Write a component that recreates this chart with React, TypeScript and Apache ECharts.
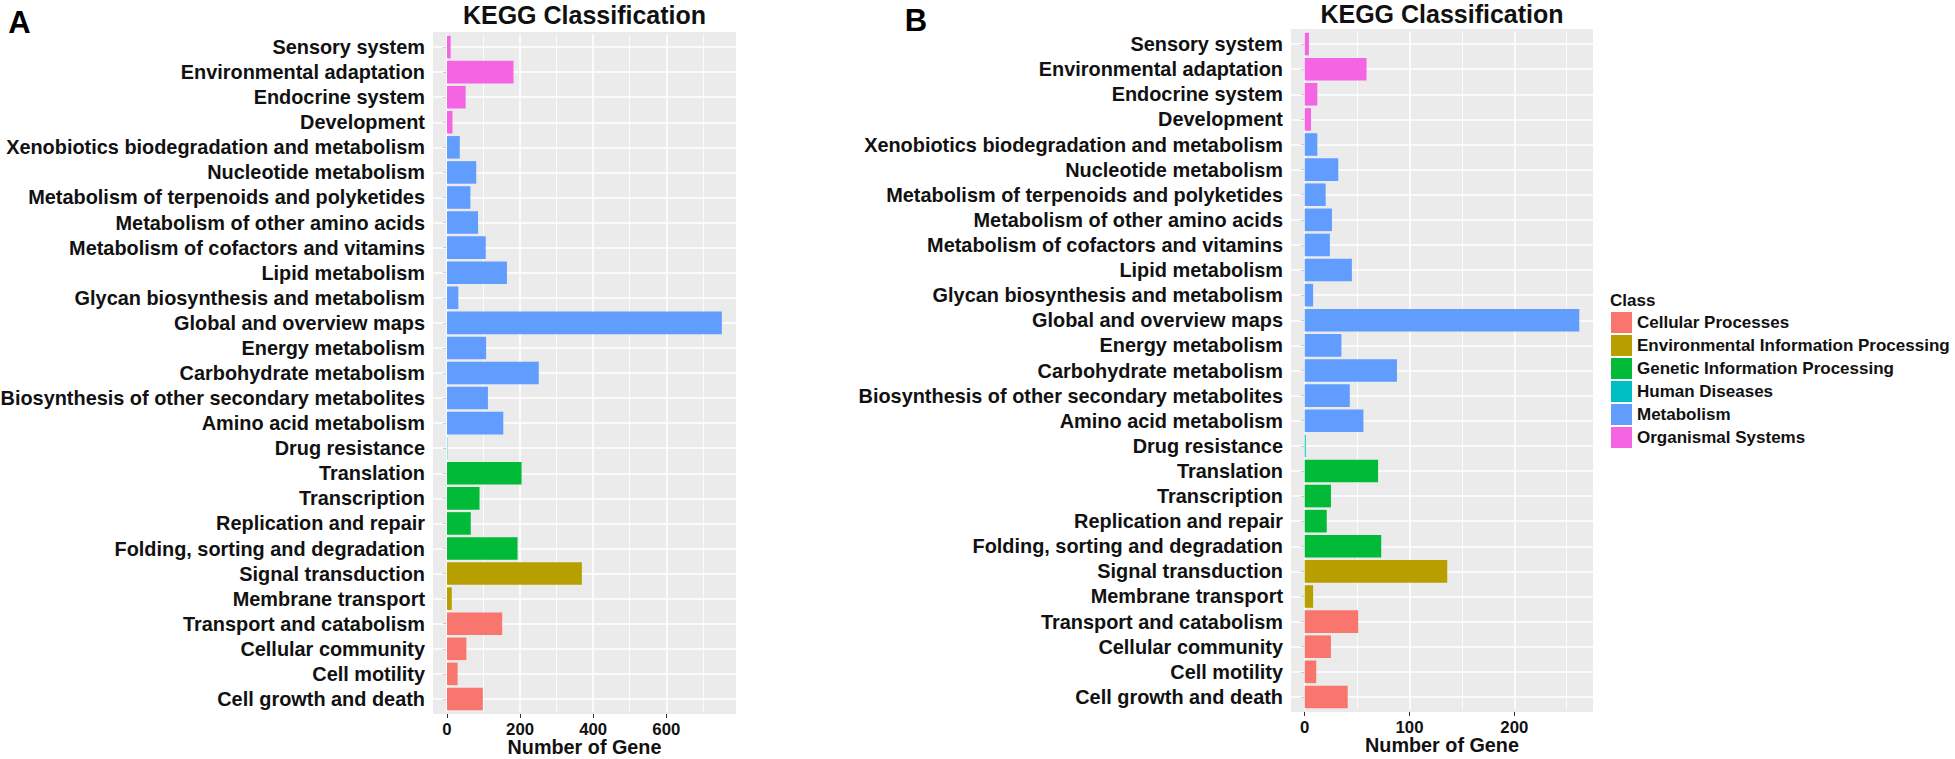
import React, { useEffect, useRef } from 'react';
import * as echarts from 'echarts';

const categories = [
  'Sensory system',
  'Environmental adaptation',
  'Endocrine system',
  'Development',
  'Xenobiotics biodegradation and metabolism',
  'Nucleotide metabolism',
  'Metabolism of terpenoids and polyketides',
  'Metabolism of other amino acids',
  'Metabolism of cofactors and vitamins',
  'Lipid metabolism',
  'Glycan biosynthesis and metabolism',
  'Global and overview maps',
  'Energy metabolism',
  'Carbohydrate metabolism',
  'Biosynthesis of other secondary metabolites',
  'Amino acid metabolism',
  'Drug resistance',
  'Translation',
  'Transcription',
  'Replication and repair',
  'Folding, sorting and degradation',
  'Signal transduction',
  'Membrane transport',
  'Transport and catabolism',
  'Cellular community',
  'Cell motility',
  'Cell growth and death',
];

const OS = 'Organismal Systems';
const ME = 'Metabolism';
const HD = 'Human Diseases';
const GI = 'Genetic Information Processing';
const EI = 'Environmental Information Processing';
const CP = 'Cellular Processes';

const categoryClass = [
  OS, OS, OS, OS,
  ME, ME, ME, ME, ME, ME, ME, ME, ME, ME, ME, ME,
  HD,
  GI, GI, GI, GI,
  EI, EI,
  CP, CP, CP, CP,
];

const classNames = [CP, EI, GI, HD, ME, OS];
const classColors = ['#F8766D', '#B79F00', '#00BA38', '#00BFC4', '#619CFF', '#F564E3'];

const valuesA = [10, 182, 51, 15, 35, 80, 64, 85, 106, 164, 31, 752, 107, 251, 112, 154, 1, 204, 89, 65, 193, 369, 13, 151, 53, 29, 98];
const valuesB = [4, 59, 12, 6, 12, 32, 20, 26, 24, 45, 8, 262, 35, 88, 43, 56, 1, 70, 25, 21, 73, 136, 8, 51, 25, 11, 41];

const majorTicksA = [0, 200, 400, 600];
const minorTicksA = [100, 300, 500, 700];
const majorTicksB = [0, 100, 200];
const minorTicksB = [50, 150, 250];

const titleText = 'KEGG Classification';
const xAxisTitle = 'Number of Gene';
const legendTitle = 'Class';
const panelLetters = ['A', 'B'];

const FONT = "'Liberation Sans', Arial, Helvetica, sans-serif";
const INK = '#111111';

function buildOption() {
  const panels = [
    {
      values: valuesA, major: majorTicksA, minor: minorTicksA,
      left: 433, right: 736, top: 32, bottom: 714, min: -38.3, max: 790.7,
      letterX: 19.5, letterY: 22,
    },
    {
      values: valuesB, major: majorTicksB, minor: minorTicksB,
      left: 1291, right: 1593, top: 29, bottom: 712, min: -13.1, max: 275.1,
      letterX: 916, letterY: 20,
    },
  ];

  const grid: any[] = [];
  const xAxis: any[] = [];
  const yAxis: any[] = [];
  const series: any[] = [];
  const graphic: any[] = [];

  panels.forEach((p, i) => {
    const band = (p.bottom - p.top) / 27.2;
    const gTop = p.top + 0.1 * band;
    const gH = 27 * band;
    const gBottom = gTop + gH;
    grid.push({
      left: p.left, top: gTop, width: p.right - p.left, height: gH,
      containLabel: false, outerBoundsMode: 'none',
    });
    xAxis.push({
      type: 'value', gridIndex: i, min: p.min, max: p.max,
      offset: p.bottom - gBottom,
      axisLine: { show: false },
      axisTick: { show: true, length: 4, customValues: p.major, lineStyle: { color: '#333', width: 1 } },
      axisLabel: { show: true, customValues: p.major, fontSize: 16.8, fontWeight: 'bold', color: INK, margin: 7, fontFamily: FONT },
      splitLine: { show: false },
      name: xAxisTitle, nameLocation: 'middle', nameGap: 23, nameMoveOverlap: false,
      nameTextStyle: { fontSize: 19.8, fontWeight: 'bold', color: INK, fontFamily: FONT },
    });
    yAxis.push({
      type: 'category', gridIndex: i, data: categories, inverse: true,
      axisLine: { show: false },
      axisTick: { show: true, length: 4, alignWithLabel: true, interval: 0, lineStyle: { color: '#333', width: 1 } },
      axisLabel: { interval: 0, fontSize: 19.9, fontWeight: 'bold', color: INK, margin: 8, fontFamily: FONT },
      splitLine: { show: false },
    });
    series.push({
      type: 'line', xAxisIndex: i, yAxisIndex: i, silent: true, showSymbol: false,
      data: categories.map(() => null), z: 1,
      markLine: {
        silent: true, z: 1, symbol: ['none', 'none'], label: { show: false },
        lineStyle: { color: '#ffffff', width: 1.6, type: 'solid', opacity: 1 },
        emphasis: { disabled: true },
        data: [
          ...p.major.map((v) => ({ xAxis: v })),
          ...p.minor.map((v) => ({ xAxis: v, lineStyle: { color: '#ffffff', width: 0.8, type: 'solid' } })),
          ...categories.map((_, k) => ({ yAxis: k })),
        ],
      },
    });
    classNames.forEach((cls, ci) => {
      series.push({
        type: 'bar', name: cls, xAxisIndex: i, yAxisIndex: i, stack: 'panel' + i,
        barWidth: '90%', z: 2,
        itemStyle: { color: classColors[ci], borderWidth: 0 },
        emphasis: { disabled: true },
        data: p.values.map((v, k) => (categoryClass[k] === cls ? v : '-')),
      });
    });
    graphic.push({
      type: 'rect', z: -10, silent: true,
      shape: { x: p.left, y: p.top, width: p.right - p.left, height: p.bottom - p.top },
      style: { fill: '#EBEBEB' },
    });
    graphic.push({
      type: 'text', z: 10, silent: true, x: (p.left + p.right) / 2, y: i === 0 ? 15 : 13.5,
      style: {
        text: titleText, fontSize: 25, fontWeight: 'bold', fill: INK, fontFamily: FONT,
        textAlign: 'center', align: 'center', textVerticalAlign: 'middle', verticalAlign: 'middle',
      },
    });
    graphic.push({
      type: 'text', z: 10, silent: true, x: p.letterX, y: p.letterY,
      style: {
        text: panelLetters[i], fontSize: 31, fontWeight: 'bold', fill: '#000', fontFamily: FONT,
        textAlign: 'center', align: 'center', textVerticalAlign: 'middle', verticalAlign: 'middle',
      },
    });
  });

  graphic.push({
    type: 'text', z: 10, silent: true, x: 1610, y: 300,
    style: {
      text: legendTitle, fontSize: 17, fontWeight: 'bold', fill: INK, fontFamily: FONT,
      textAlign: 'left', align: 'left', textVerticalAlign: 'middle', verticalAlign: 'middle',
    },
  });

  return {
    animation: false,
    backgroundColor: '#ffffff',
    textStyle: { fontFamily: FONT },
    tooltip: { show: false },
    legend: {
      data: classNames, orient: 'vertical', left: 1611, top: 312, padding: 0,
      itemWidth: 21, itemHeight: 21, itemGap: 2, icon: 'rect', selectedMode: false,
      itemStyle: { borderWidth: 0 },
      textStyle: { fontSize: 17, fontWeight: 'bold', color: INK, fontFamily: FONT, overflow: 'none' },
    },
    grid, xAxis, yAxis, series, graphic,
  };
}

export default function App() {
  const ref = useRef<HTMLDivElement>(null);
  useEffect(() => {
    if (!ref.current) return;
    document.body.style.margin = '0';
    document.documentElement.style.margin = '0';
    const chart = echarts.init(ref.current, null, { renderer: 'svg' });
    chart.setOption(buildOption() as any);
    return () => chart.dispose();
  }, []);
  return (
    <div
      ref={ref}
      style={{ position: 'absolute', left: 0, top: 0, width: 1955, height: 759, background: '#fff' }}
    />
  );
}
